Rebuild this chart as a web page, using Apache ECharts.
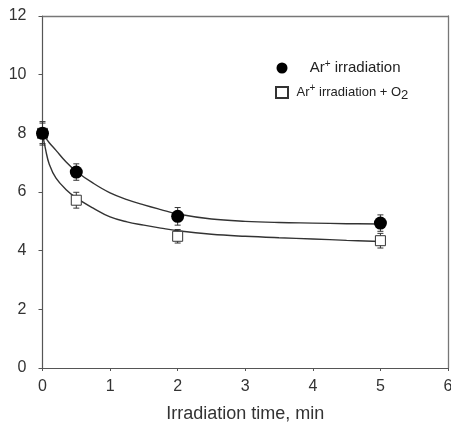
<!DOCTYPE html>
<html>
<head>
<meta charset="UTF-8">
<script type="text/javascript" src="https://cdn.jsdelivr.net/npm/echarts@6/dist/echarts.min.js"></script>
<title>Irradiation</title>
<style>
	body { margin: 0; background: #fff; }
	#main { width: 451px; height: 424px; }
</style>
</head>
<body>
<div id="main"></div>
<script type="text/javascript">
	// measured points (Ar+ irradiation, filled circles)
	var timeAr = [0, 0.5, 2, 5];
	var valAr = [8.0, 6.68, 5.17, 4.94];
	var errAr = [0.4, 0.28, 0.3, 0.28];

	// measured points (Ar+ irradiation + O2, open squares)
	var timeO2 = [0, 0.5, 2, 5];
	var valO2 = [8.0, 5.72, 4.49, 4.34];
	var errO2 = [0.35, 0.27, 0.23, 0.25];

	// fitted curves
	var fitTimeAr = [0, 0.1, 0.2, 0.35, 0.5, 0.75, 1.0, 1.25, 1.5, 1.75, 2.0, 2.5, 3.0, 3.5, 4.0, 4.5, 5.0];
	var fitAr = [8.0, 7.68, 7.42, 7.02, 6.70, 6.30, 5.97, 5.74, 5.56, 5.40, 5.25, 5.08, 5.00, 4.96, 4.94, 4.92, 4.91];
	var fitTimeO2 = [0, 0.05, 0.1, 0.2, 0.35, 0.5, 0.75, 1.0, 1.25, 1.5, 1.75, 2.0, 2.5, 3.0, 3.5, 4.0, 4.5, 5.0];
	var fitO2 = [8.0, 7.4, 6.95, 6.47, 6.08, 5.80, 5.45, 5.15, 4.98, 4.87, 4.77, 4.68, 4.56, 4.49, 4.44, 4.40, 4.35, 4.31];

	var xTicks = [0, 1, 2, 3, 4, 5, 6];
	var yTicks = [0, 2, 4, 6, 8, 10, 12];

	function pairs(xs, ys) {
		var out = [];
		for (var i = 0; i < xs.length; i++) out.push([xs[i], ys[i]]);
		return out;
	}
	function errData(xs, ys, es) {
		var out = [];
		for (var i = 0; i < xs.length; i++) out.push([xs[i], ys[i] - es[i], ys[i] + es[i]]);
		return out;
	}
	function renderErr(params, api) {
		var x = api.value(0);
		var lo = api.coord([x, api.value(1)]);
		var hi = api.coord([x, api.value(2)]);
		var w = 3;
		var st = { stroke: '#333', lineWidth: 1 };
		return {
			type: 'group',
			children: [
				{ type: 'line', shape: { x1: lo[0], y1: lo[1], x2: hi[0], y2: hi[1] }, style: st },
				{ type: 'line', shape: { x1: lo[0] - w, y1: lo[1], x2: lo[0] + w, y2: lo[1] }, style: st },
				{ type: 'line', shape: { x1: hi[0] - w, y1: hi[1], x2: hi[0] + w, y2: hi[1] }, style: st }
			]
		};
	}

	var font = 'Liberation Sans, Arial, sans-serif';
	var frameAxis = {
		axisLine: { show: true, onZero: false, lineStyle: { color: '#777', width: 1.3 } },
		axisTick: { show: false }, axisLabel: { show: false }, splitLine: { show: false }
	};
	var myChart = echarts.init(document.getElementById('main'));
	var option = {
		animation: false,
		grid: {
			left: 42.5, right: 3, top: 16, bottom: 56,
			outerBoundsMode: 'none', containLabel: false
		},
		legend: {
			orient: 'vertical',
			left: 270, top: 54,
			itemGap: 8,
			itemWidth: 12, itemHeight: 11,
			data: ['Ar+ irradiation', 'Ar+ irradiation + O2'],
			formatter: function (name) {
				if (name === 'Ar+ irradiation') return '{a|    Ar}{s|+}{a| irradiation}';
				return '{b| Ar}{s|+}{b| irradiation + O}{d|2}';
			},
			textStyle: {
				fontFamily: font, color: '#222',
				rich: {
					a: { fontSize: 15, fontFamily: font, color: '#222', lineHeight: 18 },
					b: { fontSize: 13, fontFamily: font, color: '#222', lineHeight: 18 },
					s: { fontSize: 10, fontFamily: font, color: '#222', verticalAlign: 'top', lineHeight: 18 },
					d: { fontSize: 13, fontFamily: font, color: '#222', verticalAlign: 'bottom', lineHeight: 18, padding: [5, 0, 0, 0] }
				}
			}
		},
		xAxis: [{
			type: 'value', min: 0, max: 6, interval: 1,
			name: 'Irradiation time, min',
			nameLocation: 'middle', nameGap: 37,
			nameTextStyle: { fontFamily: font, fontSize: 18, color: '#333' },
			axisLine: { onZero: false, lineStyle: { color: '#555', width: 1.2 } },
			axisTick: { show: true, length: 3, inside: false, lineStyle: { color: '#555' } },
			axisLabel: {
				fontFamily: font, fontSize: 16, color: '#333', margin: 11,
				formatter: function (v) { return xTicks.indexOf(v) >= 0 ? String(v) : ''; }
			},
			splitLine: { show: false }
		}, Object.assign({ type: 'value', position: 'top', min: 0, max: 6 }, frameAxis)],
		yAxis: [{
			type: 'value', min: 0, max: 12, interval: 2,
			axisLine: { show: true, onZero: false, lineStyle: { color: '#555', width: 1.2 } },
			axisTick: { show: true, length: 4, lineStyle: { color: '#555' } },
			axisLabel: {
				fontFamily: font, fontSize: 16, color: '#333', margin: 16,
				formatter: function (v) { return yTicks.indexOf(v) >= 0 ? String(v) : ''; }
			},
			splitLine: { show: false }
		}, Object.assign({ type: 'value', position: 'right', min: 0, max: 12 }, frameAxis)],
		series: [
			{
				type: 'line', data: pairs(fitTimeAr, fitAr), smooth: 0.4,
				showSymbol: false, silent: true, z: 2,
				lineStyle: { color: '#333', width: 1.4 }
			},
			{
				type: 'line', data: pairs(fitTimeO2, fitO2), smooth: 0.4,
				showSymbol: false, silent: true, z: 2,
				lineStyle: { color: '#333', width: 1.4 }
			},
			{
				type: 'custom', renderItem: renderErr, data: errData(timeAr, valAr, errAr), z: 3
			},
			{
				type: 'custom', renderItem: renderErr, data: errData(timeO2, valO2, errO2), z: 3
			},
			{
				name: 'Ar+ irradiation + O2', type: 'scatter', data: pairs(timeO2, valO2),
				symbol: 'rect', symbolSize: 10, z: 4,
				itemStyle: { color: '#fff', borderColor: '#333', borderWidth: 1, opacity: 1 }
			},
			{
				name: 'Ar+ irradiation', type: 'scatter', data: pairs(timeAr, valAr),
				symbol: 'circle', symbolSize: 13, z: 5,
				itemStyle: { color: '#000', borderColor: '#000', borderWidth: 0, opacity: 1 }
			}
		]
	};
	myChart.setOption(option);
</script>
</body>
</html>
